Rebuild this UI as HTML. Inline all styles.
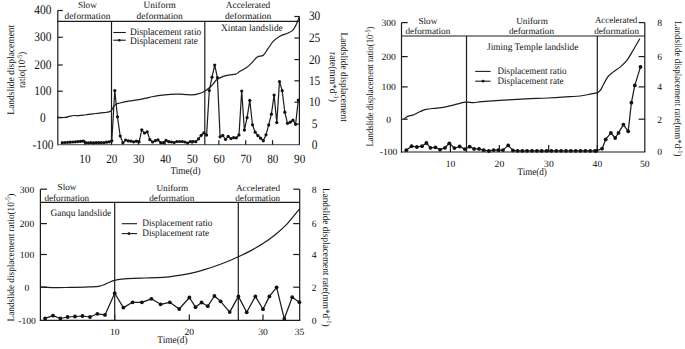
<!DOCTYPE html>
<html><head><meta charset="utf-8"><style>
html,body{margin:0;padding:0;background:#fff;}
body{width:685px;height:349px;overflow:hidden;}
svg{display:block;font-family:"Liberation Serif", serif;text-rendering:geometricPrecision;}
</style></head><body>
<svg width="685" height="349" viewBox="0 0 685 349">
<rect width="685" height="349" fill="#fff"/>
<line x1="57.8" y1="10.5" x2="57.8" y2="145.29999999999998" stroke="#1c1c1c" stroke-width="1.2"/>
<line x1="57.199999999999996" y1="144.7" x2="300.0" y2="144.7" stroke="#6a6a6a" stroke-width="1.3"/>
<line x1="299.4" y1="16.5" x2="299.4" y2="144.7" stroke="#1c1c1c" stroke-width="1.2"/>
<line x1="57.8" y1="21.3" x2="299.4" y2="21.3" stroke="#1c1c1c" stroke-width="1.2"/>
<line x1="111.5" y1="21.3" x2="111.5" y2="144.7" stroke="#1c1c1c" stroke-width="1.2"/>
<line x1="204.8" y1="21.3" x2="204.8" y2="144.7" stroke="#1c1c1c" stroke-width="1.2"/>
<line x1="57.8" y1="10.5" x2="62.8" y2="10.5" stroke="#1c1c1c" stroke-width="1.2"/>
<line x1="57.8" y1="37.3" x2="62.8" y2="37.3" stroke="#1c1c1c" stroke-width="1.2"/>
<line x1="57.8" y1="65" x2="62.8" y2="65" stroke="#1c1c1c" stroke-width="1.2"/>
<line x1="57.8" y1="91.2" x2="62.8" y2="91.2" stroke="#1c1c1c" stroke-width="1.2"/>
<line x1="57.8" y1="117.7" x2="62.8" y2="117.7" stroke="#1c1c1c" stroke-width="1.2"/>
<line x1="294.4" y1="16.5" x2="299.4" y2="16.5" stroke="#1c1c1c" stroke-width="1.2"/>
<line x1="294.4" y1="38" x2="299.4" y2="38" stroke="#1c1c1c" stroke-width="1.2"/>
<line x1="294.4" y1="59.6" x2="299.4" y2="59.6" stroke="#1c1c1c" stroke-width="1.2"/>
<line x1="294.4" y1="80.8" x2="299.4" y2="80.8" stroke="#1c1c1c" stroke-width="1.2"/>
<line x1="294.4" y1="102.2" x2="299.4" y2="102.2" stroke="#1c1c1c" stroke-width="1.2"/>
<line x1="294.4" y1="124" x2="299.4" y2="124" stroke="#1c1c1c" stroke-width="1.2"/>
<line x1="84.644" y1="144.7" x2="84.644" y2="140.2" stroke="#1c1c1c" stroke-width="1.2"/>
<line x1="111.488" y1="144.7" x2="111.488" y2="140.2" stroke="#1c1c1c" stroke-width="1.2"/>
<line x1="138.332" y1="144.7" x2="138.332" y2="140.2" stroke="#1c1c1c" stroke-width="1.2"/>
<line x1="165.176" y1="144.7" x2="165.176" y2="140.2" stroke="#1c1c1c" stroke-width="1.2"/>
<line x1="192.01999999999998" y1="144.7" x2="192.01999999999998" y2="140.2" stroke="#1c1c1c" stroke-width="1.2"/>
<line x1="218.86400000000003" y1="144.7" x2="218.86400000000003" y2="140.2" stroke="#1c1c1c" stroke-width="1.2"/>
<line x1="245.70800000000003" y1="144.7" x2="245.70800000000003" y2="140.2" stroke="#1c1c1c" stroke-width="1.2"/>
<line x1="272.552" y1="144.7" x2="272.552" y2="140.2" stroke="#1c1c1c" stroke-width="1.2"/>
<text x="42.9" y="14.4" font-size="13" text-anchor="middle" fill="#111" textLength="17.1" lengthAdjust="spacingAndGlyphs">400</text>
<text x="42.9" y="41.199999999999996" font-size="13" text-anchor="middle" fill="#111" textLength="17.1" lengthAdjust="spacingAndGlyphs">300</text>
<text x="42.9" y="68.9" font-size="13" text-anchor="middle" fill="#111" textLength="17.1" lengthAdjust="spacingAndGlyphs">200</text>
<text x="42.9" y="95.10000000000001" font-size="13" text-anchor="middle" fill="#111" textLength="17.1" lengthAdjust="spacingAndGlyphs">100</text>
<text x="42.9" y="121.60000000000001" font-size="13" text-anchor="middle" fill="#111" textLength="5.7" lengthAdjust="spacingAndGlyphs">0</text>
<text x="42.9" y="148.6" font-size="13" text-anchor="middle" fill="#111" textLength="20.9" lengthAdjust="spacingAndGlyphs">-100</text>
<text x="314.6" y="20.4" font-size="13" text-anchor="middle" fill="#111" textLength="11.4" lengthAdjust="spacingAndGlyphs">30</text>
<text x="314.6" y="41.9" font-size="13" text-anchor="middle" fill="#111" textLength="11.4" lengthAdjust="spacingAndGlyphs">25</text>
<text x="314.6" y="63.5" font-size="13" text-anchor="middle" fill="#111" textLength="11.4" lengthAdjust="spacingAndGlyphs">20</text>
<text x="314.6" y="84.7" font-size="13" text-anchor="middle" fill="#111" textLength="11.4" lengthAdjust="spacingAndGlyphs">15</text>
<text x="314.6" y="106.10000000000001" font-size="13" text-anchor="middle" fill="#111" textLength="11.4" lengthAdjust="spacingAndGlyphs">10</text>
<text x="314.6" y="127.9" font-size="13" text-anchor="middle" fill="#111" textLength="5.7" lengthAdjust="spacingAndGlyphs">5</text>
<text x="314.6" y="148.6" font-size="13" text-anchor="middle" fill="#111" textLength="5.7" lengthAdjust="spacingAndGlyphs">0</text>
<text x="84.944" y="162.6" font-size="12.6" text-anchor="middle" fill="#111" textLength="11.2" lengthAdjust="spacingAndGlyphs">10</text>
<text x="111.788" y="162.6" font-size="12.6" text-anchor="middle" fill="#111" textLength="11.2" lengthAdjust="spacingAndGlyphs">20</text>
<text x="138.632" y="162.6" font-size="12.6" text-anchor="middle" fill="#111" textLength="11.2" lengthAdjust="spacingAndGlyphs">30</text>
<text x="165.476" y="162.6" font-size="12.6" text-anchor="middle" fill="#111" textLength="11.2" lengthAdjust="spacingAndGlyphs">40</text>
<text x="192.32" y="162.6" font-size="12.6" text-anchor="middle" fill="#111" textLength="11.2" lengthAdjust="spacingAndGlyphs">50</text>
<text x="219.16400000000004" y="162.6" font-size="12.6" text-anchor="middle" fill="#111" textLength="11.2" lengthAdjust="spacingAndGlyphs">60</text>
<text x="246.00800000000004" y="162.6" font-size="12.6" text-anchor="middle" fill="#111" textLength="11.2" lengthAdjust="spacingAndGlyphs">70</text>
<text x="272.85200000000003" y="162.6" font-size="12.6" text-anchor="middle" fill="#111" textLength="11.2" lengthAdjust="spacingAndGlyphs">80</text>
<text x="299.696" y="162.6" font-size="12.6" text-anchor="middle" fill="#111" textLength="11.2" lengthAdjust="spacingAndGlyphs">90</text>
<text x="185.5" y="174.2" font-size="10.2" text-anchor="middle" fill="#111" textLength="30.2" lengthAdjust="spacingAndGlyphs">Time(d)</text>
<text x="87.4" y="7.7" font-size="9.4" text-anchor="middle" fill="#111" textLength="19" lengthAdjust="spacingAndGlyphs">Slow</text>
<text x="87.4" y="18.8" font-size="9.4" text-anchor="middle" fill="#111" textLength="45.9" lengthAdjust="spacingAndGlyphs">deformation</text>
<text x="159.7" y="7.9" font-size="9.4" text-anchor="middle" fill="#111" textLength="32.2" lengthAdjust="spacingAndGlyphs">Uniform</text>
<text x="159.7" y="18.9" font-size="9.4" text-anchor="middle" fill="#111" textLength="46.3" lengthAdjust="spacingAndGlyphs">deformation</text>
<text x="248" y="7.6" font-size="9.4" text-anchor="middle" fill="#111" textLength="44.4" lengthAdjust="spacingAndGlyphs">Accelerated</text>
<text x="248.2" y="18.7" font-size="9.4" text-anchor="middle" fill="#111" textLength="46.2" lengthAdjust="spacingAndGlyphs">deformation</text>
<text x="251.9" y="30.6" font-size="9.9" text-anchor="middle" fill="#111" textLength="61.7" lengthAdjust="spacingAndGlyphs">Xintan landslide</text>
<line x1="113.3" y1="32.5" x2="125.8" y2="32.5" stroke="#1c1c1c" stroke-width="1.1"/>
<line x1="113.3" y1="40.2" x2="125.8" y2="40.2" stroke="#1c1c1c" stroke-width="1.1"/>
<circle cx="119.3" cy="40.2" r="1.3" fill="#111"/>
<text x="130" y="35.2" font-size="10" text-anchor="start" fill="#111" textLength="71.2" lengthAdjust="spacingAndGlyphs">Displacement ratio</text>
<text x="130" y="43.6" font-size="10" text-anchor="start" fill="#111" textLength="68" lengthAdjust="spacingAndGlyphs">Displacement rate</text>
<text x="13.8" y="69.7" font-size="10" text-anchor="middle" fill="#111" textLength="89.9" lengthAdjust="spacingAndGlyphs" transform="rotate(-90 13.8 69.7)">Landslide displacement</text>
<text x="25.4" y="69.9" font-size="10" text-anchor="middle" fill="#111" transform="rotate(-90 25.4 69.9)" textLength="36.2" lengthAdjust="spacingAndGlyphs">ratio(10<tspan font-size="6.8" dy="-3.8">-5</tspan><tspan dy="3.8">)</tspan></text>
<text x="341.3" y="77.1" font-size="10" text-anchor="middle" fill="#111" textLength="89.4" lengthAdjust="spacingAndGlyphs" transform="rotate(90 341.3 77.1)">Landslide displacement</text>
<text x="329.8" y="77.05" font-size="10" text-anchor="middle" fill="#111" transform="rotate(90 329.8 77.05)" textLength="49.9" lengthAdjust="spacingAndGlyphs">rate(mm*d<tspan font-size="6.8" dy="-3.8">-1</tspan><tspan dy="3.8">)</tspan></text>
<path d="M57.8,117.4 C59.1,117.4 63.5,117.6 65.4,117.4 C67.3,117.2 67.8,116.7 69.2,116.4 C70.6,116.1 72.4,115.6 74.0,115.5 C75.6,115.4 77.1,115.7 78.7,115.6 C80.3,115.5 81.9,115.3 83.5,115.1 C85.1,114.9 86.6,114.6 88.2,114.4 C89.8,114.2 91.4,114.0 93.0,113.8 C94.6,113.6 95.8,113.5 97.7,113.3 C99.6,113.1 102.4,112.8 104.3,112.6 C106.2,112.4 107.9,112.3 109.1,111.9 C110.3,111.5 110.7,111.3 111.5,110.4 C112.3,109.5 112.9,107.5 113.8,106.4 C114.7,105.3 115.7,104.4 116.7,103.8 C117.7,103.2 118.0,103.5 120.0,103.0 C122.0,102.5 125.3,101.7 128.5,101.1 C131.7,100.5 135.5,100.2 139.0,99.6 C142.5,99.0 146.0,98.0 149.5,97.3 C153.0,96.6 156.5,95.8 160.0,95.3 C163.5,94.8 167.3,94.5 170.6,94.3 C173.9,94.1 177.2,94.2 179.8,94.2 C182.4,94.2 184.0,94.5 186.0,94.6 C188.0,94.7 189.6,94.9 191.6,94.8 C193.6,94.7 195.9,94.4 198.1,93.8 C200.3,93.2 202.4,92.5 204.7,91.2 C206.9,89.9 209.6,87.7 211.6,85.8 C213.6,83.9 214.8,81.2 216.9,79.6 C219.0,78.0 221.7,76.9 223.9,76.1 C226.1,75.3 228.0,75.2 230.0,74.9 C232.0,74.6 234.1,74.7 235.8,74.1 C237.5,73.5 238.2,72.4 240.0,71.3 C241.8,70.2 244.5,69.0 246.5,67.6 C248.5,66.2 250.1,64.5 251.9,62.7 C253.7,60.9 255.4,58.1 257.3,56.9 C259.2,55.6 261.5,56.6 263.3,55.2 C265.1,53.8 266.3,51.0 268.0,48.7 C269.7,46.4 271.4,43.3 273.4,41.2 C275.4,39.1 277.5,37.5 279.8,36.2 C282.1,34.9 285.2,34.2 287.4,33.2 C289.5,32.2 291.3,31.8 292.7,30.4 C294.1,29.0 294.9,27.2 296.0,25.0 C297.1,22.8 298.7,18.6 299.2,17.3" fill="none" stroke="#1c1c1c" stroke-width="1.2" stroke-linejoin="round" stroke-linecap="round"/>
<polyline points="62.3,142.7 64.9,142.5 67.5,142.3 70.1,142.2 72.7,142.0 75.3,141.8 77.9,141.6 80.5,141.3 83.1,141.2 85.7,142.6 88.4,142.8 91.0,142.6 93.6,142.8 96.2,142.6 98.8,142.7 101.4,142.5 104.0,142.6 106.6,142.2 109.2,141.8 111.8,140.8 114.8,90.6 117.5,116.8 120.2,136.0 122.9,142.8 125.6,140.0 128.3,140.9 131.0,141.2 133.7,141.8 136.4,141.2 139.1,141.8 141.8,129.8 144.5,133.1 147.2,131.8 149.9,139.7 152.6,142.0 155.3,140.7 158.0,139.9 160.7,142.7 163.4,142.7 166.1,140.4 168.8,141.7 171.5,142.0 174.2,142.5 176.9,141.5 179.6,141.5 182.3,141.5 185.0,142.0 187.7,143.0 190.4,141.5 193.1,141.5 195.8,141.7 198.5,138.9 201.2,135.3 203.9,132.8 206.6,135.1 209.3,90.5 212.0,77.2 214.7,65.0 217.4,77.6 220.1,136.8 222.8,135.4 225.5,139.5 228.2,136.4 230.9,138.6 233.6,137.7 236.3,137.8 239.0,134.9 241.7,91.0 244.4,130.1 247.1,117.6 249.8,100.4 252.5,124.8 255.2,132.2 257.9,135.6 260.6,138.2 263.3,140.8 266.0,134.8 268.7,124.9 271.4,114.2 274.1,95.1 276.8,122.6 279.5,81.6 282.2,90.7 284.8,112.2 287.5,123.3 290.2,122.2 292.9,120.2 295.6,124.3 298.3,100.1" fill="none" stroke="#1c1c1c" stroke-width="1.2" stroke-linejoin="round"/>
<circle cx="62.3" cy="142.7" r="1.6" fill="#111"/>
<circle cx="64.9" cy="142.5" r="1.6" fill="#111"/>
<circle cx="67.5" cy="142.3" r="1.6" fill="#111"/>
<circle cx="70.1" cy="142.2" r="1.6" fill="#111"/>
<circle cx="72.7" cy="142.0" r="1.6" fill="#111"/>
<circle cx="75.3" cy="141.8" r="1.6" fill="#111"/>
<circle cx="77.9" cy="141.6" r="1.6" fill="#111"/>
<circle cx="80.5" cy="141.3" r="1.6" fill="#111"/>
<circle cx="83.1" cy="141.2" r="1.6" fill="#111"/>
<circle cx="85.7" cy="142.6" r="1.6" fill="#111"/>
<circle cx="88.4" cy="142.8" r="1.6" fill="#111"/>
<circle cx="91.0" cy="142.6" r="1.6" fill="#111"/>
<circle cx="93.6" cy="142.8" r="1.6" fill="#111"/>
<circle cx="96.2" cy="142.6" r="1.6" fill="#111"/>
<circle cx="98.8" cy="142.7" r="1.6" fill="#111"/>
<circle cx="101.4" cy="142.5" r="1.6" fill="#111"/>
<circle cx="104.0" cy="142.6" r="1.6" fill="#111"/>
<circle cx="106.6" cy="142.2" r="1.6" fill="#111"/>
<circle cx="109.2" cy="141.8" r="1.6" fill="#111"/>
<circle cx="111.8" cy="140.8" r="1.6" fill="#111"/>
<circle cx="114.8" cy="90.6" r="1.6" fill="#111"/>
<circle cx="117.5" cy="116.8" r="1.6" fill="#111"/>
<circle cx="120.2" cy="136.0" r="1.6" fill="#111"/>
<circle cx="122.9" cy="142.8" r="1.6" fill="#111"/>
<circle cx="125.6" cy="140.0" r="1.6" fill="#111"/>
<circle cx="128.3" cy="140.9" r="1.6" fill="#111"/>
<circle cx="131.0" cy="141.2" r="1.6" fill="#111"/>
<circle cx="133.7" cy="141.8" r="1.6" fill="#111"/>
<circle cx="136.4" cy="141.2" r="1.6" fill="#111"/>
<circle cx="139.1" cy="141.8" r="1.6" fill="#111"/>
<circle cx="141.8" cy="129.8" r="1.6" fill="#111"/>
<circle cx="144.5" cy="133.1" r="1.6" fill="#111"/>
<circle cx="147.2" cy="131.8" r="1.6" fill="#111"/>
<circle cx="149.9" cy="139.7" r="1.6" fill="#111"/>
<circle cx="152.6" cy="142.0" r="1.6" fill="#111"/>
<circle cx="155.3" cy="140.7" r="1.6" fill="#111"/>
<circle cx="158.0" cy="139.9" r="1.6" fill="#111"/>
<circle cx="160.7" cy="142.7" r="1.6" fill="#111"/>
<circle cx="163.4" cy="142.7" r="1.6" fill="#111"/>
<circle cx="166.1" cy="140.4" r="1.6" fill="#111"/>
<circle cx="168.8" cy="141.7" r="1.6" fill="#111"/>
<circle cx="171.5" cy="142.0" r="1.6" fill="#111"/>
<circle cx="174.2" cy="142.5" r="1.6" fill="#111"/>
<circle cx="176.9" cy="141.5" r="1.6" fill="#111"/>
<circle cx="179.6" cy="141.5" r="1.6" fill="#111"/>
<circle cx="182.3" cy="141.5" r="1.6" fill="#111"/>
<circle cx="185.0" cy="142.0" r="1.6" fill="#111"/>
<circle cx="187.7" cy="143.0" r="1.6" fill="#111"/>
<circle cx="190.4" cy="141.5" r="1.6" fill="#111"/>
<circle cx="193.1" cy="141.5" r="1.6" fill="#111"/>
<circle cx="195.8" cy="141.7" r="1.6" fill="#111"/>
<circle cx="198.5" cy="138.9" r="1.6" fill="#111"/>
<circle cx="201.2" cy="135.3" r="1.6" fill="#111"/>
<circle cx="203.9" cy="132.8" r="1.6" fill="#111"/>
<circle cx="206.6" cy="135.1" r="1.6" fill="#111"/>
<circle cx="209.3" cy="90.5" r="1.6" fill="#111"/>
<circle cx="212.0" cy="77.2" r="1.6" fill="#111"/>
<circle cx="214.7" cy="65.0" r="1.6" fill="#111"/>
<circle cx="217.4" cy="77.6" r="1.6" fill="#111"/>
<circle cx="220.1" cy="136.8" r="1.6" fill="#111"/>
<circle cx="222.8" cy="135.4" r="1.6" fill="#111"/>
<circle cx="225.5" cy="139.5" r="1.6" fill="#111"/>
<circle cx="228.2" cy="136.4" r="1.6" fill="#111"/>
<circle cx="230.9" cy="138.6" r="1.6" fill="#111"/>
<circle cx="233.6" cy="137.7" r="1.6" fill="#111"/>
<circle cx="236.3" cy="137.8" r="1.6" fill="#111"/>
<circle cx="239.0" cy="134.9" r="1.6" fill="#111"/>
<circle cx="241.7" cy="91.0" r="1.6" fill="#111"/>
<circle cx="244.4" cy="130.1" r="1.6" fill="#111"/>
<circle cx="247.1" cy="117.6" r="1.6" fill="#111"/>
<circle cx="249.8" cy="100.4" r="1.6" fill="#111"/>
<circle cx="252.5" cy="124.8" r="1.6" fill="#111"/>
<circle cx="255.2" cy="132.2" r="1.6" fill="#111"/>
<circle cx="257.9" cy="135.6" r="1.6" fill="#111"/>
<circle cx="260.6" cy="138.2" r="1.6" fill="#111"/>
<circle cx="263.3" cy="140.8" r="1.6" fill="#111"/>
<circle cx="266.0" cy="134.8" r="1.6" fill="#111"/>
<circle cx="268.7" cy="124.9" r="1.6" fill="#111"/>
<circle cx="271.4" cy="114.2" r="1.6" fill="#111"/>
<circle cx="274.1" cy="95.1" r="1.6" fill="#111"/>
<circle cx="276.8" cy="122.6" r="1.6" fill="#111"/>
<circle cx="279.5" cy="81.6" r="1.6" fill="#111"/>
<circle cx="282.2" cy="90.7" r="1.6" fill="#111"/>
<circle cx="284.8" cy="112.2" r="1.6" fill="#111"/>
<circle cx="287.5" cy="123.3" r="1.6" fill="#111"/>
<circle cx="290.2" cy="122.2" r="1.6" fill="#111"/>
<circle cx="292.9" cy="120.2" r="1.6" fill="#111"/>
<circle cx="295.6" cy="124.3" r="1.6" fill="#111"/>
<circle cx="298.3" cy="100.1" r="1.6" fill="#111"/>
<line x1="401.5" y1="22.6" x2="401.5" y2="152.6" stroke="#1c1c1c" stroke-width="1.2"/>
<line x1="400.9" y1="152" x2="645.4" y2="152" stroke="#1c1c1c" stroke-width="1.2"/>
<line x1="644.8" y1="22.6" x2="644.8" y2="152" stroke="#1c1c1c" stroke-width="1.2"/>
<line x1="401.5" y1="36" x2="644.8" y2="36" stroke="#1c1c1c" stroke-width="1.2"/>
<line x1="466.5" y1="36" x2="466.5" y2="152" stroke="#1c1c1c" stroke-width="1.2"/>
<line x1="597.3" y1="36" x2="597.3" y2="152" stroke="#1c1c1c" stroke-width="1.2"/>
<line x1="401.5" y1="22.6" x2="407.7" y2="22.6" stroke="#1c1c1c" stroke-width="1.2"/>
<line x1="638.5999999999999" y1="22.6" x2="644.8" y2="22.6" stroke="#1c1c1c" stroke-width="1.2"/>
<line x1="401.5" y1="56.6" x2="407.7" y2="56.6" stroke="#1c1c1c" stroke-width="1.2"/>
<line x1="638.5999999999999" y1="56.6" x2="644.8" y2="56.6" stroke="#1c1c1c" stroke-width="1.2"/>
<line x1="401.5" y1="86.9" x2="407.7" y2="86.9" stroke="#1c1c1c" stroke-width="1.2"/>
<line x1="638.5999999999999" y1="86.9" x2="644.8" y2="86.9" stroke="#1c1c1c" stroke-width="1.2"/>
<line x1="401.5" y1="119.2" x2="407.7" y2="119.2" stroke="#1c1c1c" stroke-width="1.2"/>
<line x1="638.5999999999999" y1="119.2" x2="644.8" y2="119.2" stroke="#1c1c1c" stroke-width="1.2"/>
<line x1="450.4" y1="152" x2="450.4" y2="145" stroke="#1c1c1c" stroke-width="1.2"/>
<line x1="499.3" y1="152" x2="499.3" y2="145" stroke="#1c1c1c" stroke-width="1.2"/>
<line x1="548.7" y1="152" x2="548.7" y2="145" stroke="#1c1c1c" stroke-width="1.2"/>
<line x1="597.3" y1="152" x2="597.3" y2="145" stroke="#1c1c1c" stroke-width="1.2"/>
<text x="388.6" y="25.900000000000002" font-size="9.6" text-anchor="middle" fill="#111">300</text>
<text x="388.6" y="59.9" font-size="9.6" text-anchor="middle" fill="#111">200</text>
<text x="388.6" y="90.2" font-size="9.6" text-anchor="middle" fill="#111">100</text>
<text x="388.6" y="122.5" font-size="9.6" text-anchor="middle" fill="#111">0</text>
<text x="388.6" y="155.3" font-size="9.6" text-anchor="middle" fill="#111">-100</text>
<text x="659.7" y="25.900000000000002" font-size="9.6" text-anchor="middle" fill="#111">8</text>
<text x="659.7" y="59.9" font-size="9.6" text-anchor="middle" fill="#111">6</text>
<text x="659.7" y="90.2" font-size="9.6" text-anchor="middle" fill="#111">4</text>
<text x="659.7" y="122.5" font-size="9.6" text-anchor="middle" fill="#111">2</text>
<text x="659.7" y="155.3" font-size="9.6" text-anchor="middle" fill="#111">0</text>
<text x="450.6" y="167" font-size="9.6" text-anchor="middle" fill="#111">10</text>
<text x="499.4" y="167" font-size="9.6" text-anchor="middle" fill="#111">20</text>
<text x="548.9" y="167" font-size="9.6" text-anchor="middle" fill="#111">30</text>
<text x="597.4" y="167" font-size="9.6" text-anchor="middle" fill="#111">40</text>
<text x="644.8" y="167" font-size="9.6" text-anchor="middle" fill="#111">50</text>
<text x="532.2" y="174.5" font-size="10" text-anchor="middle" fill="#111" textLength="29.4" lengthAdjust="spacingAndGlyphs">Time(d)</text>
<text x="427.9" y="24.1" font-size="9.2" text-anchor="middle" fill="#111" textLength="19" lengthAdjust="spacingAndGlyphs">Slow</text>
<text x="427.9" y="34.4" font-size="9.2" text-anchor="middle" fill="#111" textLength="44.7" lengthAdjust="spacingAndGlyphs">deformation</text>
<text x="532" y="24.2" font-size="9.2" text-anchor="middle" fill="#111" textLength="31.7" lengthAdjust="spacingAndGlyphs">Uniform</text>
<text x="531.5" y="34.4" font-size="9.2" text-anchor="middle" fill="#111" textLength="45" lengthAdjust="spacingAndGlyphs">deformation</text>
<text x="616.1" y="23.3" font-size="9.2" text-anchor="middle" fill="#111" textLength="42.4" lengthAdjust="spacingAndGlyphs">Accelerated</text>
<text x="616.6" y="34.1" font-size="9.2" text-anchor="middle" fill="#111" textLength="44.9" lengthAdjust="spacingAndGlyphs">deformation</text>
<text x="532.7" y="49.8" font-size="9.8" text-anchor="middle" fill="#111" textLength="91.2" lengthAdjust="spacingAndGlyphs">Jiming Temple landslide</text>
<line x1="475.2" y1="71.4" x2="490.6" y2="71.4" stroke="#1c1c1c" stroke-width="1.1"/>
<line x1="475.2" y1="81.2" x2="490.6" y2="81.2" stroke="#1c1c1c" stroke-width="1.1"/>
<circle cx="483.1" cy="81.2" r="1.4" fill="#111"/>
<text x="497.5" y="74.4" font-size="9.8" text-anchor="start" fill="#111" textLength="69" lengthAdjust="spacingAndGlyphs">Displacement ratio</text>
<text x="497.5" y="83.8" font-size="9.8" text-anchor="start" fill="#111" textLength="66" lengthAdjust="spacingAndGlyphs">Displacement rate</text>
<text x="373.5" y="86.6" font-size="9.8" text-anchor="middle" fill="#111" transform="rotate(-90 373.5 86.6)" textLength="120" lengthAdjust="spacingAndGlyphs">Landslide displacement ratio(10<tspan font-size="6.8" dy="-3.8">-5</tspan><tspan dy="3.8">)</tspan></text>
<text x="674.5" y="88.7" font-size="9.8" text-anchor="middle" fill="#111" transform="rotate(90 674.5 88.7)" textLength="135.4" lengthAdjust="spacingAndGlyphs">Landslide displacement rate(mm*d<tspan font-size="6.8" dy="-3.8">-1</tspan><tspan dy="3.8">)</tspan></text>
<path d="M404.3,119.0 C404.7,118.7 405.7,117.5 406.6,116.9 C407.6,116.3 408.8,116.0 410.0,115.6 C411.2,115.2 412.3,115.4 414.0,114.7 C415.7,114.0 418.4,112.4 420.4,111.5 C422.4,110.6 423.6,109.8 426.0,109.3 C428.4,108.8 431.8,108.6 434.9,108.3 C438.0,108.0 441.3,107.8 444.5,107.2 C447.7,106.6 450.6,105.6 454.1,104.8 C457.6,104.0 462.1,102.6 465.3,102.2 C468.5,101.8 470.6,102.7 473.4,102.6 C476.2,102.5 476.8,102.1 481.9,101.7 C487.0,101.3 496.5,100.7 503.8,100.2 C511.1,99.7 518.4,99.3 525.7,98.9 C533.0,98.5 540.3,98.4 547.6,98.0 C554.9,97.6 564.1,97.0 569.5,96.7 C574.9,96.4 576.6,96.4 580.0,96.0 C583.4,95.6 587.0,94.8 590.0,94.2 C593.0,93.6 595.9,93.4 597.7,92.6 C599.6,91.8 600.0,90.8 601.1,89.2 C602.2,87.6 602.9,85.3 604.1,83.2 C605.3,81.1 606.6,78.3 608.1,76.5 C609.6,74.7 611.1,73.7 613.1,72.1 C615.1,70.5 617.8,69.1 620.1,67.1 C622.4,65.1 624.9,62.9 627.1,60.1 C629.3,57.3 631.1,53.6 633.2,50.1 C635.3,46.6 638.5,40.9 639.6,39.0" fill="none" stroke="#1c1c1c" stroke-width="1.2" stroke-linejoin="round" stroke-linecap="round"/>
<polyline points="406.3,150.2 411.6,146.2 416.9,147.0 422.0,146.2 426.4,143.0 430.5,147.8 435.4,147.3 440.0,149.7 445.0,147.8 449.3,143.3 454.4,148.1 459.7,146.5 464.8,149.1 469.7,146.7 474.1,148.9 479.0,148.9 483.7,150.2 488.9,151.0 493.6,150.1 498.3,150.1 503.0,150.1 508.2,145.4 512.9,150.4 517.6,150.8 522.3,150.8 527.1,150.8 532.0,150.8 536.9,150.8 541.7,150.8 546.6,150.8 551.4,150.8 556.3,150.8 561.1,150.8 566.0,150.8 570.8,150.8 575.7,150.8 580.5,150.8 585.4,150.8 590.2,150.8 595.1,150.8 596.3,150.8 602.1,148.7 605.7,139.4 610.9,132.9 615.2,138.0 618.5,132.9 623.4,124.6 628.2,131.3 631.4,102.7 634.8,85.4 640.5,66.9" fill="none" stroke="#1c1c1c" stroke-width="1.25" stroke-linejoin="round"/>
<circle cx="406.3" cy="150.2" r="1.9" fill="#111"/>
<circle cx="411.6" cy="146.2" r="1.9" fill="#111"/>
<circle cx="416.9" cy="147.0" r="1.9" fill="#111"/>
<circle cx="422.0" cy="146.2" r="1.9" fill="#111"/>
<circle cx="426.4" cy="143.0" r="1.9" fill="#111"/>
<circle cx="430.5" cy="147.8" r="1.9" fill="#111"/>
<circle cx="435.4" cy="147.3" r="1.9" fill="#111"/>
<circle cx="440.0" cy="149.7" r="1.9" fill="#111"/>
<circle cx="445.0" cy="147.8" r="1.9" fill="#111"/>
<circle cx="449.3" cy="143.3" r="1.9" fill="#111"/>
<circle cx="454.4" cy="148.1" r="1.9" fill="#111"/>
<circle cx="459.7" cy="146.5" r="1.9" fill="#111"/>
<circle cx="464.8" cy="149.1" r="1.9" fill="#111"/>
<circle cx="469.7" cy="146.7" r="1.9" fill="#111"/>
<circle cx="474.1" cy="148.9" r="1.9" fill="#111"/>
<circle cx="479.0" cy="148.9" r="1.9" fill="#111"/>
<circle cx="483.7" cy="150.2" r="1.9" fill="#111"/>
<circle cx="488.9" cy="151.0" r="1.9" fill="#111"/>
<circle cx="493.6" cy="150.1" r="1.9" fill="#111"/>
<circle cx="498.3" cy="150.1" r="1.9" fill="#111"/>
<circle cx="503.0" cy="150.1" r="1.9" fill="#111"/>
<circle cx="508.2" cy="145.4" r="1.9" fill="#111"/>
<circle cx="512.9" cy="150.4" r="1.9" fill="#111"/>
<circle cx="517.6" cy="150.8" r="1.9" fill="#111"/>
<circle cx="522.3" cy="150.8" r="1.9" fill="#111"/>
<circle cx="527.1" cy="150.8" r="1.9" fill="#111"/>
<circle cx="532.0" cy="150.8" r="1.9" fill="#111"/>
<circle cx="536.9" cy="150.8" r="1.9" fill="#111"/>
<circle cx="541.7" cy="150.8" r="1.9" fill="#111"/>
<circle cx="546.6" cy="150.8" r="1.9" fill="#111"/>
<circle cx="551.4" cy="150.8" r="1.9" fill="#111"/>
<circle cx="556.3" cy="150.8" r="1.9" fill="#111"/>
<circle cx="561.1" cy="150.8" r="1.9" fill="#111"/>
<circle cx="566.0" cy="150.8" r="1.9" fill="#111"/>
<circle cx="570.8" cy="150.8" r="1.9" fill="#111"/>
<circle cx="575.7" cy="150.8" r="1.9" fill="#111"/>
<circle cx="580.5" cy="150.8" r="1.9" fill="#111"/>
<circle cx="585.4" cy="150.8" r="1.9" fill="#111"/>
<circle cx="590.2" cy="150.8" r="1.9" fill="#111"/>
<circle cx="595.1" cy="150.8" r="1.9" fill="#111"/>
<circle cx="596.3" cy="150.8" r="1.9" fill="#111"/>
<circle cx="602.1" cy="148.7" r="1.9" fill="#111"/>
<circle cx="605.7" cy="139.4" r="1.9" fill="#111"/>
<circle cx="610.9" cy="132.9" r="1.9" fill="#111"/>
<circle cx="615.2" cy="138.0" r="1.9" fill="#111"/>
<circle cx="618.5" cy="132.9" r="1.9" fill="#111"/>
<circle cx="623.4" cy="124.6" r="1.9" fill="#111"/>
<circle cx="628.2" cy="131.3" r="1.9" fill="#111"/>
<circle cx="631.4" cy="102.7" r="1.9" fill="#111"/>
<circle cx="634.8" cy="85.4" r="1.9" fill="#111"/>
<circle cx="640.5" cy="66.9" r="1.9" fill="#111"/>
<line x1="40.4" y1="189.2" x2="40.4" y2="321.0" stroke="#1c1c1c" stroke-width="1.2"/>
<line x1="39.8" y1="320.4" x2="300.3" y2="320.4" stroke="#1c1c1c" stroke-width="1.2"/>
<line x1="299.7" y1="189.2" x2="299.7" y2="320.4" stroke="#1c1c1c" stroke-width="1.2"/>
<line x1="40.4" y1="202.4" x2="299.7" y2="202.4" stroke="#1c1c1c" stroke-width="1.2"/>
<line x1="114.7" y1="202.4" x2="114.7" y2="320.4" stroke="#1c1c1c" stroke-width="1.2"/>
<line x1="238.3" y1="202.4" x2="238.3" y2="320.4" stroke="#1c1c1c" stroke-width="1.2"/>
<line x1="40.4" y1="189.2" x2="46.9" y2="189.2" stroke="#1c1c1c" stroke-width="1.2"/>
<line x1="293.2" y1="189.2" x2="299.7" y2="189.2" stroke="#1c1c1c" stroke-width="1.2"/>
<line x1="40.4" y1="223.6" x2="46.9" y2="223.6" stroke="#1c1c1c" stroke-width="1.2"/>
<line x1="293.2" y1="223.6" x2="299.7" y2="223.6" stroke="#1c1c1c" stroke-width="1.2"/>
<line x1="40.4" y1="254.5" x2="46.9" y2="254.5" stroke="#1c1c1c" stroke-width="1.2"/>
<line x1="293.2" y1="254.5" x2="299.7" y2="254.5" stroke="#1c1c1c" stroke-width="1.2"/>
<line x1="40.4" y1="287.2" x2="46.9" y2="287.2" stroke="#1c1c1c" stroke-width="1.2"/>
<line x1="293.2" y1="287.2" x2="299.7" y2="287.2" stroke="#1c1c1c" stroke-width="1.2"/>
<line x1="114.7" y1="320.4" x2="114.7" y2="314.4" stroke="#1c1c1c" stroke-width="1.2"/>
<line x1="189.3" y1="320.4" x2="189.3" y2="314.4" stroke="#1c1c1c" stroke-width="1.2"/>
<line x1="263" y1="320.4" x2="263" y2="314.4" stroke="#1c1c1c" stroke-width="1.2"/>
<text x="27" y="192.5" font-size="9.6" text-anchor="middle" fill="#111">300</text>
<text x="27" y="226.9" font-size="9.6" text-anchor="middle" fill="#111">200</text>
<text x="27" y="257.8" font-size="9.6" text-anchor="middle" fill="#111">100</text>
<text x="27" y="290.5" font-size="9.6" text-anchor="middle" fill="#111">0</text>
<text x="27" y="323.7" font-size="9.6" text-anchor="middle" fill="#111">-100</text>
<text x="314.2" y="192.5" font-size="9.6" text-anchor="middle" fill="#111">8</text>
<text x="314.2" y="226.9" font-size="9.6" text-anchor="middle" fill="#111">6</text>
<text x="314.2" y="257.8" font-size="9.6" text-anchor="middle" fill="#111">4</text>
<text x="314.2" y="290.5" font-size="9.6" text-anchor="middle" fill="#111">2</text>
<text x="314.2" y="323.7" font-size="9.6" text-anchor="middle" fill="#111">0</text>
<text x="114.7" y="335" font-size="9.6" text-anchor="middle" fill="#111">10</text>
<text x="189.3" y="335" font-size="9.6" text-anchor="middle" fill="#111">20</text>
<text x="263.1" y="335" font-size="9.6" text-anchor="middle" fill="#111">30</text>
<text x="299.5" y="335" font-size="9.6" text-anchor="middle" fill="#111">35</text>
<text x="172.4" y="343.4" font-size="10" text-anchor="middle" fill="#111" textLength="30.3" lengthAdjust="spacingAndGlyphs">Time(d)</text>
<text x="67" y="190.2" font-size="9.2" text-anchor="middle" fill="#111" textLength="19" lengthAdjust="spacingAndGlyphs">Slow</text>
<text x="66.8" y="200.9" font-size="9.2" text-anchor="middle" fill="#111" textLength="44.7" lengthAdjust="spacingAndGlyphs">deformation</text>
<text x="172.3" y="190.5" font-size="9.2" text-anchor="middle" fill="#111" textLength="31.8" lengthAdjust="spacingAndGlyphs">Uniform</text>
<text x="171.8" y="200.8" font-size="9.2" text-anchor="middle" fill="#111" textLength="45.1" lengthAdjust="spacingAndGlyphs">deformation</text>
<text x="258" y="190.5" font-size="9.2" text-anchor="middle" fill="#111" textLength="44.2" lengthAdjust="spacingAndGlyphs">Accelerated</text>
<text x="257.7" y="200.8" font-size="9.2" text-anchor="middle" fill="#111" textLength="44.9" lengthAdjust="spacingAndGlyphs">deformation</text>
<text x="80.9" y="215.6" font-size="9.8" text-anchor="middle" fill="#111" textLength="60.7" lengthAdjust="spacingAndGlyphs">Ganqu landslide</text>
<line x1="121.8" y1="223.7" x2="137" y2="223.7" stroke="#1c1c1c" stroke-width="1.1"/>
<line x1="121.8" y1="233.6" x2="137" y2="233.6" stroke="#1c1c1c" stroke-width="1.1"/>
<circle cx="129.0" cy="233.6" r="1.4" fill="#111"/>
<text x="142.3" y="226.4" font-size="9.8" text-anchor="start" fill="#111" textLength="70.2" lengthAdjust="spacingAndGlyphs">Displacement ratio</text>
<text x="142.3" y="236.2" font-size="9.8" text-anchor="start" fill="#111" textLength="66.8" lengthAdjust="spacingAndGlyphs">Displacement rate</text>
<text x="14.2" y="257.6" font-size="9.8" text-anchor="middle" fill="#111" transform="rotate(-90 14.2 257.6)" textLength="127.8" lengthAdjust="spacingAndGlyphs">Landslide displacement ratio(10<tspan font-size="6.8" dy="-3.8">-5</tspan><tspan dy="3.8">)</tspan></text>
<text x="323.2" y="257.3" font-size="9.8" text-anchor="middle" fill="#111" transform="rotate(90 323.2 257.3)" textLength="138.6" lengthAdjust="spacingAndGlyphs">Landslide displacement rate(mm*d<tspan font-size="6.8" dy="-3.8">-1</tspan><tspan dy="3.8">)</tspan></text>
<path d="M40.4,287.0 C42.8,287.1 50.1,287.5 55.0,287.6 C59.9,287.7 65.0,287.5 70.0,287.4 C75.0,287.3 81.7,287.2 85.0,287.1 C88.3,287.0 87.7,287.0 90.0,286.9 C92.3,286.8 96.5,286.8 98.8,286.4 C101.1,286.0 102.2,285.5 104.0,284.8 C105.8,284.1 107.5,283.0 109.3,282.3 C111.0,281.6 112.5,280.9 114.5,280.4 C116.5,279.9 118.4,279.5 121.5,279.2 C124.6,278.9 129.4,278.5 133.3,278.3 C137.2,278.1 141.2,278.1 145.2,278.0 C149.1,277.9 153.1,277.9 157.0,277.7 C160.9,277.5 165.0,277.2 168.9,276.8 C172.8,276.4 176.8,275.9 180.7,275.2 C184.6,274.5 188.6,273.7 192.6,272.8 C196.6,271.9 200.4,270.8 204.4,269.6 C208.4,268.4 212.4,267.1 216.3,265.7 C220.2,264.3 224.2,262.8 228.1,261.2 C232.0,259.6 236.1,257.9 240.0,256.0 C243.9,254.2 247.9,252.2 251.8,250.1 C255.8,247.9 259.8,245.7 263.7,243.1 C267.6,240.5 271.6,237.8 275.5,234.5 C279.4,231.2 283.4,227.8 287.4,223.6 C291.3,219.4 297.2,211.7 299.2,209.3" fill="none" stroke="#1c1c1c" stroke-width="1.2" stroke-linejoin="round" stroke-linecap="round"/>
<polyline points="45.1,318.4 53.0,315.7 60.4,318.5 67.6,317.0 75.0,316.5 82.5,316.0 90.0,317.0 97.4,313.8 105.0,314.9 114.7,293.2 123.4,307.6 132.6,302.3 141.9,302.3 151.4,298.8 160.6,304.3 169.8,302.3 179.2,309.0 189.4,297.5 195.5,307.2 201.6,302.5 207.8,306.2 214.4,296.0 220.6,301.3 229.7,312.1 238.4,296.4 246.7,312.3 255.4,296.4 263.0,309.2 269.4,296.4 276.6,287.3 284.3,318.8 292.2,297.2 299.4,302.2" fill="none" stroke="#1c1c1c" stroke-width="1.25" stroke-linejoin="round"/>
<circle cx="45.1" cy="318.4" r="1.9" fill="#111"/>
<circle cx="53.0" cy="315.7" r="1.9" fill="#111"/>
<circle cx="60.4" cy="318.5" r="1.9" fill="#111"/>
<circle cx="67.6" cy="317.0" r="1.9" fill="#111"/>
<circle cx="75.0" cy="316.5" r="1.9" fill="#111"/>
<circle cx="82.5" cy="316.0" r="1.9" fill="#111"/>
<circle cx="90.0" cy="317.0" r="1.9" fill="#111"/>
<circle cx="97.4" cy="313.8" r="1.9" fill="#111"/>
<circle cx="105.0" cy="314.9" r="1.9" fill="#111"/>
<circle cx="114.7" cy="293.2" r="1.9" fill="#111"/>
<circle cx="123.4" cy="307.6" r="1.9" fill="#111"/>
<circle cx="132.6" cy="302.3" r="1.9" fill="#111"/>
<circle cx="141.9" cy="302.3" r="1.9" fill="#111"/>
<circle cx="151.4" cy="298.8" r="1.9" fill="#111"/>
<circle cx="160.6" cy="304.3" r="1.9" fill="#111"/>
<circle cx="169.8" cy="302.3" r="1.9" fill="#111"/>
<circle cx="179.2" cy="309.0" r="1.9" fill="#111"/>
<circle cx="189.4" cy="297.5" r="1.9" fill="#111"/>
<circle cx="195.5" cy="307.2" r="1.9" fill="#111"/>
<circle cx="201.6" cy="302.5" r="1.9" fill="#111"/>
<circle cx="207.8" cy="306.2" r="1.9" fill="#111"/>
<circle cx="214.4" cy="296.0" r="1.9" fill="#111"/>
<circle cx="220.6" cy="301.3" r="1.9" fill="#111"/>
<circle cx="229.7" cy="312.1" r="1.9" fill="#111"/>
<circle cx="238.4" cy="296.4" r="1.9" fill="#111"/>
<circle cx="246.7" cy="312.3" r="1.9" fill="#111"/>
<circle cx="255.4" cy="296.4" r="1.9" fill="#111"/>
<circle cx="263.0" cy="309.2" r="1.9" fill="#111"/>
<circle cx="269.4" cy="296.4" r="1.9" fill="#111"/>
<circle cx="276.6" cy="287.3" r="1.9" fill="#111"/>
<circle cx="284.3" cy="318.8" r="1.9" fill="#111"/>
<circle cx="292.2" cy="297.2" r="1.9" fill="#111"/>
<circle cx="299.4" cy="302.2" r="1.9" fill="#111"/>
</svg>
</body></html>
